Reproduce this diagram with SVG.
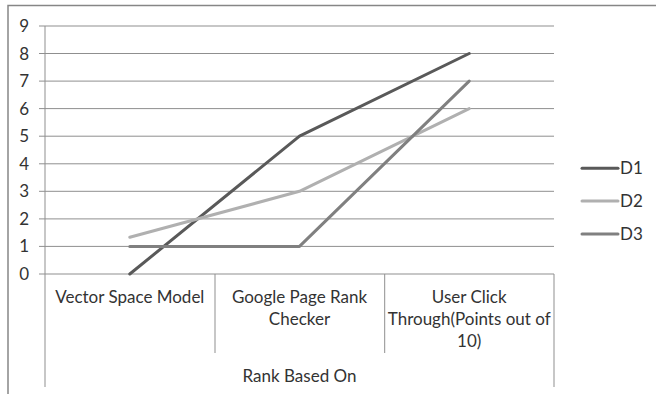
<svg xmlns="http://www.w3.org/2000/svg" width="656" height="394" viewBox="0 0 656 394">
<style>
.grid{stroke:#8f8f8f;stroke-width:1;fill:none}
.axis{stroke:#8f8f8f;stroke-width:1;fill:none}
.frame{stroke:#868686;stroke-width:1.5;fill:none}
.s{fill:none;stroke-width:3;stroke-linecap:round;stroke-linejoin:round}
.d1{stroke:#595959}
.d2{stroke:#b0b0b0}
.d3{stroke:#808080}
text{font-family:Lato,"Open Sans","Liberation Sans",sans-serif;font-size:17px;fill:#333333}
.yl{text-anchor:end}
.c{text-anchor:middle}
</style>
<rect width="656" height="394" fill="#ffffff"/>
<g id="frame"><path class="frame" d="M8 394 V5.5 H656"/></g>
<g id="gridlines">
<path class="grid" d="M39 26 H554 M39 53.5 H554 M39 81.1 H554 M39 108.6 H554 M39 136.2 H554 M39 163.8 H554 M39 191.3 H554 M39 218.9 H554 M39 246.4 H554 M39 274 H554"/>
</g>
<g id="axes">
<path class="axis" d="M45 26 V387 M215 274 V353 M384.7 274 V353 M554 274 V387"/>
</g>
<g id="y-labels">
<text class="yl" x="29" y="32">9</text>
<text class="yl" x="29" y="59.5">8</text>
<text class="yl" x="29" y="87.1">7</text>
<text class="yl" x="29" y="114.6">6</text>
<text class="yl" x="29" y="142.2">5</text>
<text class="yl" x="29" y="169.8">4</text>
<text class="yl" x="29" y="197.3">3</text>
<text class="yl" x="29" y="224.9">2</text>
<text class="yl" x="29" y="252.4">1</text>
<text class="yl" x="29" y="280">0</text>
</g>
<g id="x-labels">
<text class="c" x="129.8" y="303">Vector Space Model</text>
<text class="c" x="299.5" y="303">Google Page Rank</text>
<text class="c" x="299.5" y="325">Checker</text>
<text class="c" x="469.2" y="303">User Click</text>
<text class="c" x="469.2" y="325">Through(Points out of</text>
<text class="c" x="469.2" y="347">10)</text>
<text class="c" x="299.5" y="382">Rank Based On</text>
</g>
<g id="connectors">
<polyline id="D1" class="s d1" points="129.8,274 299.5,136.2 469.2,53.5"/>
<polyline id="D2" class="s d2" points="129.8,237.3 299.5,191.3 469.2,108.6"/>
<polyline id="D3" class="s d3" points="129.8,246.4 299.5,246.4 469.2,81.1"/>
</g>
<g id="legend">
<line class="s d1" x1="582" y1="168.3" x2="618" y2="168.3"/>
<text x="620" y="174.3">D1</text>
<line class="s d2" x1="582" y1="201" x2="618" y2="201"/>
<text x="620" y="207">D2</text>
<line class="s d3" x1="582" y1="234" x2="618" y2="234"/>
<text x="620" y="240">D3</text>
</g>
</svg>
